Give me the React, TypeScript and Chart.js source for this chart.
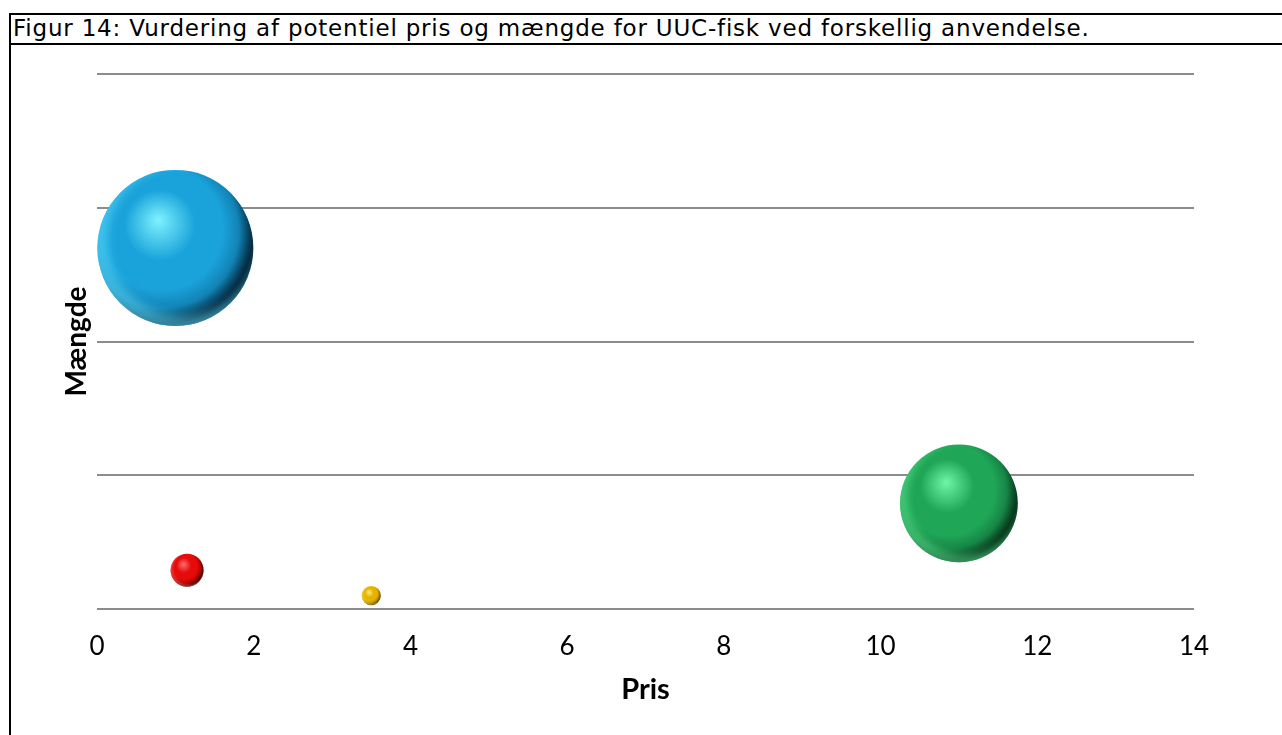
import React, { useEffect, useRef } from "react";
import { Chart, registerables } from "chart.js";

Chart.register(...registerables);

// Pris (x), mængde (y) and relative bubble size for each use
const prisValues = [1.0, 11.0, 1.15, 3.5];
const maengdeValues = [27000, 7900, 2900, 1000];
const bubbleSizes = [100, 57, 4.5, 1.5];

// Sphere colours: highlight, body, darker body, shadow
const highlightColors = ["#7ef2ff", "#6ff7a6", "#ff7070", "#fff07a"];
const bodyColors = ["#1aa2da", "#1fa657", "#e50b0b", "#e6b300"];
const midColors = ["#1283b6", "#178546", "#b80000", "#b98d00"];
const shadowColors = ["#03283d", "#06361a", "#4a0000", "#5e4400"];
const rimColors = ["rgba(100,225,255,0.5)", "rgba(95,230,145,0.5)", "rgba(255,110,110,0.45)", "rgba(255,235,130,0.45)"];

const xTicks = [0, 2, 4, 6, 8, 10, 12, 14];
const yTicks = [0, 10000, 20000, 30000, 40000];

const captionText = "Figur 14: Vurdering af potentiel pris og mængde for UUC-fisk ved forskellig anvendelse.";
const xTitle = "Pris";
const yTitle = "Mængde";

const MAX_RADIUS = 78;
const maxSize = Math.max(...bubbleSizes);

const points = prisValues.map((x, i) => ({
  x,
  y: maengdeValues[i],
  r: MAX_RADIUS * Math.sqrt(bubbleSizes[i] / maxSize),
}));

// Soft reflected light along the lower rim of each sphere
const sphereShine = {
  id: "sphereShine",
  afterDatasetsDraw(chart: any) {
    const meta = chart.getDatasetMeta(0);
    const ctx = chart.ctx as CanvasRenderingContext2D;
    meta.data.forEach((el: any, i: number) => {
      const { x, y } = el.getProps(["x", "y"], true);
      const r = el.options.radius;
      if (!isFinite(x) || !isFinite(y) || !isFinite(r)) return;
      ctx.save();
      ctx.beginPath();
      ctx.arc(x, y, r, 0, Math.PI * 2);
      ctx.clip();
      // crescent between the sphere outline and a slightly raised circle
      ctx.filter = `blur(${Math.max(1, 0.06 * r)}px)`;
      ctx.beginPath();
      ctx.arc(x, y, r * 1.15, 0, Math.PI * 2);
      ctx.arc(x + 0.1 * r, y - 0.1 * r, r * 0.97, 0, Math.PI * 2);
      ctx.fillStyle = rimColors[i];
      ctx.fill("evenodd");
      ctx.filter = "none";
      ctx.restore();
    });
  },
};

function sphereFill(context: any) {
  const i = context.dataIndex;
  const fallback = bodyColors[i] || bodyColors[0];
  if (context.type !== "data" || !context.raw) return fallback;
  const chart = context.chart;
  const xs = chart.scales.x;
  const ys = chart.scales.y;
  if (!xs || !ys) return fallback;
  const cx = xs.getPixelForValue(context.raw.x);
  const cy = ys.getPixelForValue(context.raw.y);
  const r = context.raw.r;
  if (!isFinite(cx) || !isFinite(cy) || !isFinite(r)) return fallback;
  const g = chart.ctx.createRadialGradient(
    cx - 0.22 * r, cy - 0.36 * r, 0,
    cx - 0.16 * r, cy - 0.18 * r, 1.2 * r
  );
  g.addColorStop(0, highlightColors[i]);
  g.addColorStop(0.38, bodyColors[i]);
  g.addColorStop(0.66, bodyColors[i]);
  g.addColorStop(0.82, midColors[i]);
  g.addColorStop(0.96, shadowColors[i]);
  g.addColorStop(1, shadowColors[i]);
  return g;
}

function BubbleChart() {
  const canvasRef = useRef<HTMLCanvasElement | null>(null);

  useEffect(() => {
    if (!canvasRef.current) return;
    const chart = new Chart(canvasRef.current, {
      type: "bubble",
      data: {
        datasets: [
          {
            data: points,
            backgroundColor: sphereFill,
            borderWidth: 0,
            clip: false,
          } as any,
        ],
      },
      plugins: [sphereShine],
      options: {
        responsive: false,
        animation: false,
        events: [],
        layout: { autoPadding: false, padding: { left: 0, top: 29, right: 88, bottom: 0 } },
        plugins: {
          legend: { display: false },
          tooltip: { enabled: false },
          title: { display: false },
        },
        scales: {
          x: {
            type: "linear",
            min: xTicks[0],
            max: xTicks[xTicks.length - 1],
            afterBuildTicks: (s: any) => {
              s.ticks = xTicks.map((v) => ({ value: v }));
            },
            grid: { display: false, drawTicks: false },
            border: { display: false },
            ticks: {
              color: "#000",
              padding: 22,
              font: { family: "Lato", size: 26 },
            },
            title: {
              display: true,
              text: xTitle,
              color: "#000",
              font: { family: "Lato", size: 29, weight: "bold" },
              padding: { top: 0, bottom: 28 },
            },
            afterFit: (s: any) => {
              s.height = 126;
            },
          },
          y: {
            type: "linear",
            min: yTicks[0],
            max: yTicks[yTicks.length - 1],
            afterBuildTicks: (s: any) => {
              s.ticks = yTicks.map((v) => ({ value: v }));
            },
            grid: { color: "#8c8c8c", lineWidth: 2, drawTicks: false },
            border: { display: false },
            ticks: { display: false },
            title: {
              display: true,
              text: yTitle,
              color: "#000",
              font: { family: "Lato", size: 28, weight: "bold" },
              padding: { top: 49, bottom: 0 },
            },
            afterFit: (s: any) => {
              s.width = 86;
            },
          },
        },
      } as any,
    });
    return () => chart.destroy();
  }, []);

  return <canvas ref={canvasRef} width={1271} height={690} style={{ display: "block" }} />;
}

export default function App() {
  return (
    <div
      style={{
        position: "fixed",
        left: 0,
        top: 0,
        width: 1282,
        height: 735,
        background: "#fff",
        overflow: "hidden",
      }}
    >
      <div
        style={{
          position: "absolute",
          left: 9,
          top: 13,
          width: 1273,
          height: 722,
          borderTop: "2px solid #000",
          borderLeft: "2px solid #000",
          boxSizing: "border-box",
        }}
      >
        <div
          style={{
            height: 30,
            borderBottom: "2px solid #000",
            boxSizing: "border-box",
            paddingLeft: 2,
            fontFamily: "'DejaVu Sans', Verdana, sans-serif",
            fontSize: 23,
            letterSpacing: "0.8px",
            lineHeight: "27px",
            color: "#000",
            whiteSpace: "nowrap",
          }}
        >
          {captionText}
        </div>
        <BubbleChart />
      </div>
    </div>
  );
}
